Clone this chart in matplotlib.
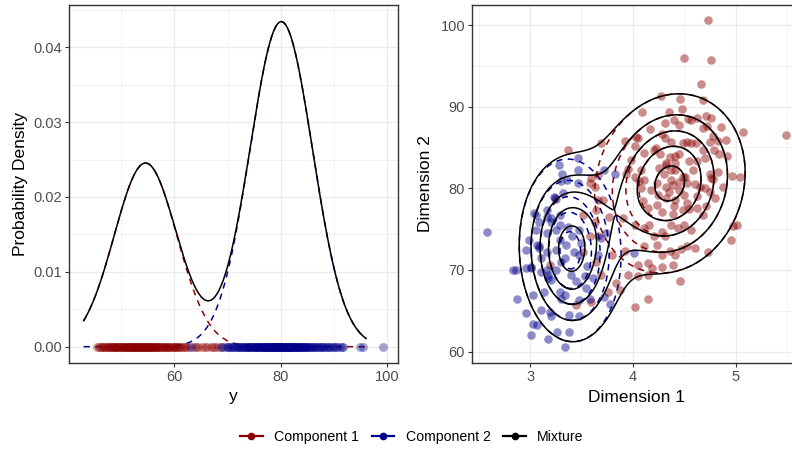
import numpy as np
import matplotlib
matplotlib.use("Agg")
import matplotlib.pyplot as plt
from matplotlib.lines import Line2D
from matplotlib.ticker import MultipleLocator, FormatStrFormatter

plt.rcParams['font.family'] = ['Liberation Sans', 'DejaVu Sans']

# ---------------- 1-D data (left panel) ----------------
y_comp1 = [45.5, 45.8, 46.0, 46.4, 46.7, 46.9, 47.1, 47.3, 47.5, 47.8, 48.0, 48.2,
           48.3, 48.5, 48.7, 48.8, 49.0, 49.1, 49.3, 49.5, 49.6, 49.8, 50.0, 50.2,
           50.4, 50.5, 50.6, 50.8, 51.0, 51.1, 51.3, 51.5, 51.6, 51.7, 51.9, 52.0,
           52.1, 52.2, 52.4, 52.6, 52.7, 52.8, 52.9, 53.1, 53.2, 53.3, 53.4, 53.6,
           53.8, 53.9, 54.0, 54.1, 54.3, 54.4, 54.5, 54.6, 54.7, 54.9, 55.0, 55.2,
           55.3, 55.4, 55.6, 55.7, 55.8, 56.0, 56.2, 56.3, 56.5, 56.6, 56.8, 57.0,
           57.1, 57.3, 57.6, 57.8, 57.9, 58.2, 58.4, 58.5, 58.8, 59.0, 59.1, 59.4,
           59.7, 59.9, 60.0, 60.3, 60.5, 60.7, 61.1, 61.3, 61.6, 62.0, 62.2, 62.8,
           63.7, 64.0, 64.5, 65.3, 65.8, 66.1, 66.9, 67.2, 67.6, 68.3, 68.9]
y_comp2 = [63.2, 68.8, 69.3, 69.9, 70.0, 70.3, 70.7, 70.9, 71.0, 71.4, 71.7, 71.8,
           72.0, 72.3, 72.5, 72.6, 72.9, 73.1, 73.3, 73.4, 73.6, 73.9, 74.0, 74.1,
           74.3, 74.5, 74.6, 74.8, 75.0, 75.1, 75.2, 75.4, 75.5, 75.6, 75.8, 75.9,
           76.0, 76.2, 76.3, 76.4, 76.6, 76.7, 76.8, 77.0, 77.1, 77.2, 77.3, 77.5,
           77.6, 77.7, 77.8, 77.9, 78.0, 78.1, 78.2, 78.3, 78.4, 78.5, 78.6, 78.7,
           78.8, 78.9, 79.0, 79.1, 79.2, 79.3, 79.4, 79.5, 79.6, 79.7, 79.8, 79.9,
           80.0, 80.1, 80.2, 80.3, 80.4, 80.5, 80.6, 80.7, 80.8, 80.9, 81.0, 81.1,
           81.2, 81.3, 81.4, 81.5, 81.6, 81.7, 81.8, 81.9, 82.0, 82.1, 82.2, 82.3,
           82.4, 82.6, 82.7, 82.8, 83.0, 83.1, 83.2, 83.4, 83.5, 83.6, 83.8, 83.9,
           84.0, 84.2, 84.3, 84.5, 84.7, 84.8, 85.0, 85.2, 85.3, 85.5, 85.8, 85.9,
           86.1, 86.4, 86.6, 86.8, 87.1, 87.3, 87.5, 87.9, 88.0, 88.3, 88.7, 88.9,
           89.1, 89.5, 89.8, 90.0, 90.3, 90.5, 91.1, 91.4, 91.7, 94.9, 95.4, 99.2]

# fitted 1-D mixture
mix1_weight = [0.361, 0.639]
mix1_mean = [54.61, 80.09]
mix1_sd = [5.87, 5.87]
curve_range = [43, 96]

# ---------------- 2-D data (right panel) ----------------
d1_comp1 = [4.73, 4.50, 4.76, 4.66, 4.27, 4.46, 4.68, 4.09, 4.35, 4.48, 4.54, 4.71, 4.76,
            5.49, 5.07, 4.86, 4.68, 4.72, 4.31, 4.40, 4.45, 4.17, 4.03, 3.92, 3.69, 3.37,
            4.31, 4.49, 4.61, 4.78, 4.83, 4.91, 4.92, 4.84, 4.68, 4.79, 4.70, 4.62, 4.22,
            4.11, 4.02, 3.95, 4.08, 4.26, 4.36, 4.41, 4.45, 4.32, 4.41, 4.41, 4.58, 4.83,
            4.96, 5.04, 4.78, 4.51, 4.45, 4.23, 4.06, 4.37, 4.39, 3.58, 3.59, 3.66, 4.05,
            4.28, 4.37, 4.53, 4.21, 4.55, 3.98, 3.93, 4.02, 4.11, 4.32, 4.37, 4.49, 4.53,
            4.08, 4.32, 4.24, 4.32, 4.41, 4.50, 4.10, 4.15, 4.23, 4.28, 4.39, 4.49, 4.53,
            3.66, 3.71, 3.77, 3.90, 4.02, 4.11, 4.16, 4.21, 4.28, 4.31, 4.37, 4.44, 4.50,
            4.57, 3.80, 3.92, 4.11, 4.23, 4.28, 4.36, 4.41, 4.47, 4.53, 4.05, 4.15, 4.19,
            4.28, 4.39, 3.69, 3.84, 3.95, 4.05, 4.15, 3.76, 3.87, 4.15, 4.46, 4.02, 4.73,
            4.95, 4.97, 5.01, 4.60, 4.68, 4.62, 4.71, 4.65, 4.70, 4.75, 4.80, 4.88, 4.76,
            4.62, 4.57, 4.75, 4.57, 4.75, 3.51, 3.64, 3.63, 3.66, 3.58, 3.25, 3.45, 3.59,
            3.19, 3.51, 3.64, 3.63, 4.30, 4.25, 4.45, 4.35, 4.18, 4.60, 4.62, 4.55, 4.40]
d2_comp1 = [100.6, 95.9, 95.7, 92.8, 91.3, 90.9, 90.8, 89.4, 89.3, 89.7, 88.5, 88.8, 88.6,
            86.5, 86.9, 87.5, 87.4, 87.6, 88.0, 88.4, 87.8, 87.3, 86.3, 85.8, 85.5, 84.7,
            86.2, 85.5, 85.5, 86.4, 85.8, 85.9, 84.0, 84.2, 84.7, 84.7, 83.7, 83.3, 84.9,
            84.3, 85.2, 82.4, 82.2, 84.2, 83.8, 83.9, 84.2, 83.1, 83.1, 82.3, 82.2, 82.0,
            81.5, 81.4, 81.1, 81.4, 80.8, 80.7, 80.9, 81.0, 80.4, 80.6, 81.2, 81.6, 86.1,
            86.7, 85.7, 85.7, 84.7, 83.3, 83.5, 81.8, 81.4, 81.0, 82.9, 82.2, 81.4, 80.6,
            80.0, 80.2, 79.2, 78.8, 78.6, 79.2, 78.4, 77.6, 78.0, 77.1, 76.9, 77.3, 78.2,
            78.6, 78.6, 76.5, 76.3, 75.5, 75.1, 75.5, 74.1, 74.7, 74.1, 75.5, 75.1, 75.5,
            74.9, 71.8, 72.3, 72.9, 73.1, 71.8, 72.3, 71.8, 72.6, 72.9, 70.6, 70.8, 70.2,
            70.4, 70.6, 69.4, 68.4, 69.4, 69.2, 69.4, 67.3, 67.6, 66.5, 68.6, 65.5, 72.2,
            73.7, 75.4, 75.5, 72.7, 76.7, 77.6, 77.8, 80.2, 80.0, 79.6, 78.8, 80.2, 81.2,
            88.6, 88.4, 85.7, 85.5, 81.8, 76.7, 77.3, 75.9, 74.1, 74.1, 78.7, 65.7, 66.1,
            70.6, 72.2, 71.0, 80.2, 81.8, 82.5, 79.8, 79.5, 79.8, 80.5, 79.0, 77.5, 77.8]
d1_comp2 = [3.28, 3.47, 3.31, 3.30, 3.47, 3.47, 3.72, 3.83, 3.23, 3.32, 3.36, 3.24,
            2.58, 3.04, 3.16, 3.09, 3.20, 3.29, 3.37, 3.06, 3.16, 3.25, 2.99, 3.07, 3.29,
            3.41, 3.48, 3.50, 2.83, 2.86, 2.96, 2.87, 2.96, 3.07, 3.03, 3.01, 3.17, 3.26,
            3.38, 3.34, 3.11, 3.19, 3.20, 3.38, 3.48, 3.03, 3.14, 3.29, 3.30, 3.34, 3.01,
            3.11, 3.16, 3.17, 3.20, 3.09, 3.25, 3.30, 3.34, 3.43, 3.48, 3.40, 3.45, 3.53,
            3.61, 3.54, 3.58, 3.48, 3.78, 3.72, 4.01, 3.74, 3.69, 3.66, 3.06, 3.16, 3.20,
            3.29, 2.96, 3.09, 3.16, 3.01, 3.11, 3.17, 3.55, 3.35, 3.25]
d2_comp2 = [82.8, 83.7, 81.8, 80.9, 82.2, 80.7, 82.3, 81.7, 78.9, 79.4, 81.0, 78.8,
            74.7, 77.0, 77.4, 75.9, 76.3, 76.7, 75.3, 74.9, 74.5, 74.9, 73.7, 73.1, 73.7,
            74.1, 74.9, 73.3, 70.0, 70.0, 70.2, 66.5, 64.7, 63.3, 63.4, 62.0, 61.6, 62.4,
            62.4, 60.6, 65.1, 64.9, 64.3, 64.5, 64.3, 66.9, 67.3, 67.3, 66.5, 66.9, 70.4,
            71.4, 70.0, 69.0, 68.8, 72.7, 72.5, 71.0, 71.4, 72.2, 71.8, 69.4, 68.6, 69.2,
            69.0, 67.8, 66.5, 66.3, 65.8, 66.7, 72.1, 74.5, 73.9, 71.8, 76.7, 76.5, 75.9,
            75.5, 72.5, 72.9, 72.2, 70.2, 69.8, 69.4, 70.5, 73.0, 70.0]

# fitted bivariate mixture
mix2_weight = [0.59, 0.41]
mix2_mean = [(4.36, 80.6), (3.39, 72.4)]
mix2_sd = [(0.40, 6.0), (0.27, 6.1)]
mix2_rho = [0.12, -0.05]
contour_levels = [0.0074, 0.0148, 0.0222, 0.0296, 0.0370]

RED = "#8B0000"
BLUE = "#00008B"
GRID = "#EBEBEB"
TICK = "#4D4D4D"
FRAME = "#333333"
DASH = (0, (4, 3.5))


def norm_pdf(x, m, s):
    return np.exp(-0.5 * ((x - m) / s) ** 2) / (s * np.sqrt(2 * np.pi))


def bvn_pdf(X, Y, mean, sd, rho):
    zx = (X - mean[0]) / sd[0]
    zy = (Y - mean[1]) / sd[1]
    q = (zx ** 2 - 2 * rho * zx * zy + zy ** 2) / (1 - rho ** 2)
    return np.exp(-0.5 * q) / (2 * np.pi * sd[0] * sd[1] * np.sqrt(1 - rho ** 2))


def style_axes(ax):
    for sp in ax.spines.values():
        sp.set_color(FRAME)
        sp.set_linewidth(1.0)
    ax.grid(True, which='major', color=GRID, lw=0.9)
    ax.grid(True, which='minor', color=GRID, lw=0.45)
    ax.set_axisbelow(True)
    ax.tick_params(which='major', length=3, width=0.8, color=FRAME,
                   labelsize=10.5, labelcolor=TICK, pad=2)
    ax.tick_params(which='minor', length=0)


fig = plt.figure(figsize=(7.92, 4.5), dpi=100)

# ---------------- left panel ----------------
ax1 = fig.add_axes([69 / 792, 1 - 363 / 450, 329 / 792, 358 / 450])
style_axes(ax1)
xs = np.linspace(curve_range[0], curve_range[1], 400)
c1 = mix1_weight[0] * norm_pdf(xs, mix1_mean[0], mix1_sd[0])
c2 = mix1_weight[1] * norm_pdf(xs, mix1_mean[1], mix1_sd[1])
ax1.plot(xs, c1, color=RED, lw=1.1, ls=DASH, zorder=3)
ax1.plot(xs, c2, color=BLUE, lw=1.1, ls=DASH, zorder=3)
ax1.plot(xs, c1 + c2, color="black", lw=1.1, zorder=4)
ax1.scatter(y_comp1, np.zeros(len(y_comp1)), s=42, color=RED, alpha=0.35,
            linewidths=0, zorder=5)
ax1.scatter(y_comp2, np.zeros(len(y_comp2)), s=42, color=BLUE, alpha=0.35,
            linewidths=0, zorder=5)
ax1.set_xlim(40.25, 102.0)
ax1.set_ylim(-0.00218, 0.04565)
ax1.xaxis.set_major_locator(MultipleLocator(20))
ax1.xaxis.set_minor_locator(MultipleLocator(10))
ax1.yaxis.set_major_locator(MultipleLocator(0.01))
ax1.yaxis.set_minor_locator(MultipleLocator(0.005))
ax1.yaxis.set_major_formatter(FormatStrFormatter('%.2f'))
ax1.set_xlabel("y", fontsize=12.5, labelpad=4)
ax1.set_ylabel("Probability Density", fontsize=12.5, labelpad=4)

# ---------------- right panel ----------------
ax2 = fig.add_axes([472 / 792, 1 - 363 / 450, 330 / 792, 358 / 450])
style_axes(ax2)
ax2.scatter(d1_comp1, d2_comp1, s=38, color=RED, alpha=0.45, linewidths=0, zorder=2)
ax2.scatter(d1_comp2, d2_comp2, s=38, color=BLUE, alpha=0.45, linewidths=0, zorder=2)
gx = np.linspace(2.3, 5.8, 300)
gy = np.linspace(55, 105, 300)
GX, GY = np.meshgrid(gx, gy)
dens1 = mix2_weight[0] * bvn_pdf(GX, GY, mix2_mean[0], mix2_sd[0], mix2_rho[0])
dens2 = mix2_weight[1] * bvn_pdf(GX, GY, mix2_mean[1], mix2_sd[1], mix2_rho[1])
cs1 = ax2.contour(GX, GY, dens1, levels=contour_levels, colors=RED,
                  linewidths=1.1, zorder=3)
cs2 = ax2.contour(GX, GY, dens2, levels=contour_levels, colors=BLUE,
                  linewidths=1.1, zorder=3)
for cs in (cs1, cs2):
    cs.set_linestyle(DASH)
ax2.contour(GX, GY, dens1 + dens2, levels=contour_levels, colors="black",
            linewidths=1.1, zorder=4)
ax2.set_xlim(2.435, 5.645)
ax2.set_ylim(58.6, 102.45)
ax2.xaxis.set_major_locator(MultipleLocator(1))
ax2.xaxis.set_minor_locator(MultipleLocator(0.5))
ax2.yaxis.set_major_locator(MultipleLocator(10))
ax2.yaxis.set_minor_locator(MultipleLocator(5))
ax2.set_xlabel("Dimension 1", fontsize=12.5, labelpad=4)
ax2.set_ylabel("Dimension 2", fontsize=12.5, labelpad=5)

# ---------------- legend ----------------
handles = [Line2D([], [], color=c, lw=1.6, marker='o', markersize=4.5)
           for c in (RED, BLUE, "black")]
fig.legend(handles, ["Component 1", "Component 2", "Mixture"], loc="center",
           bbox_to_anchor=(0.52, 1 - 437 / 450), ncol=3, frameon=False,
           fontsize=10.2, handlelength=1.6, handletextpad=0.8, columnspacing=0.9)

fig.savefig("out.png", dpi=100)
